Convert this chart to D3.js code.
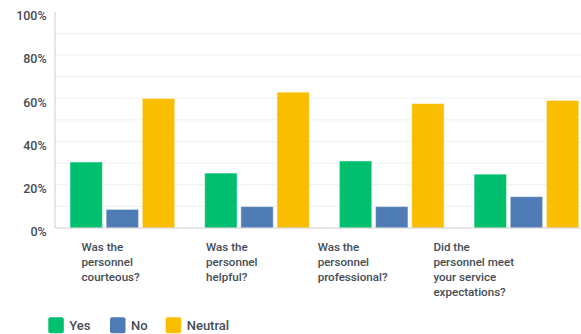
<!DOCTYPE html>
<html>
<head>
<meta charset="utf-8">
<script src="https://cdn.jsdelivr.net/npm/d3@7"></script>
<style>
  html, body { margin: 0; padding: 0; background: #fff; }
  svg { display: block; }
  text { font-family: Roboto, "Noto Sans", sans-serif; font-weight: 500; fill: #454c54; }
</style>
</head>
<body>
<svg id="chart" width="581" height="334"></svg>
<script>
// Survey questions (x categories), each label split into display lines
const questions = [
  "Was the personnel courteous?",
  "Was the personnel helpful?",
  "Was the personnel professional?",
  "Did the personnel meet your service expectations?"
];
const questionLines = [
  ["Was the", "personnel", "courteous?"],
  ["Was the", "personnel", "helpful?"],
  ["Was the", "personnel", "professional?"],
  ["Did the", "personnel meet", "your service", "expectations?"]
];

// Answer series
const seriesNames = ["Yes", "No", "Neutral"];
const seriesColors = ["#00bf6f", "#507cb6", "#f9be00"];

// Percentage of responses per question
const yesValues = [30.5, 25.4, 31.0, 24.9];
const noValues = [8.6, 9.9, 9.9, 14.5];
const neutralValues = [59.9, 62.8, 57.5, 59.0];

// Axis ticks
const gridTicks = [10, 20, 30, 40, 50, 60, 70, 80, 90];
const labelTicks = [0, 20, 40, 60, 80, 100];

const seriesValues = [yesValues, noValues, neutralValues];

const svg = d3.select("#chart");

const plotLeft = 55, plotRight = 581, plotTop = 11.7, plotBottom = 228;

const y = d3.scaleLinear().domain([0, 100]).range([plotBottom, plotTop]);

// Bar groups run slightly past the right edge of the view
const x0 = d3.scaleBand().domain(questions).range([plotLeft, 593.8])
  .paddingInner(0.2227).paddingOuter(0.1114);
const x1 = d3.scaleBand().domain(seriesNames).range([0, x0.bandwidth()])
  .paddingInner(0.104).paddingOuter(0);

// Category labels sit on their own evenly spaced band
const xLabel = d3.scaleBand().domain(questions).range([50.3, 534.3]);

// Gridlines
svg.append("g").selectAll("line").data(gridTicks).join("line")
  .attr("x1", plotLeft).attr("x2", plotRight)
  .attr("y1", d => y(d)).attr("y2", d => y(d))
  .attr("stroke", "#efefef").attr("stroke-width", 1);

// Bars
const groups = svg.append("g").selectAll("g").data(questions).join("g")
  .attr("transform", d => `translate(${x0(d)},0)`);
groups.selectAll("rect")
  .data((q, qi) => seriesNames.map((s, si) => ({ s, si, v: seriesValues[si][qi] })))
  .join("rect")
  .attr("x", d => x1(d.s))
  .attr("width", x1.bandwidth())
  .attr("y", d => y(d.v))
  .attr("height", d => y(0) - y(d.v))
  .attr("fill", d => seriesColors[d.si])
  .attr("stroke", "rgba(255,255,255,0.45)")
  .attr("stroke-width", 1);

// Axis lines
svg.append("line")
  .attr("x1", plotLeft).attr("x2", plotLeft)
  .attr("y1", plotTop).attr("y2", plotBottom)
  .attr("stroke", "#cfcfcf").attr("stroke-width", 1);
svg.append("line")
  .attr("x1", plotLeft).attr("x2", plotRight)
  .attr("y1", plotBottom).attr("y2", plotBottom)
  .attr("stroke", "#cfcfcf").attr("stroke-width", 1.2);

// Y tick labels
svg.append("g").selectAll("text").data(labelTicks).join("text")
  .attr("x", 46.7).attr("y", d => y(d) + 5)
  .attr("text-anchor", "end").attr("dominant-baseline", "middle")
  .attr("font-size", 12.5)
  .text(d => d + "%");

// Category labels: left-aligned block centred on its band
const labelGroups = svg.append("g").selectAll("text").data(questions).join("text")
  .attr("font-size", 11.6)
  .attr("font-weight", 700)
  .attr("y", 248.3);
labelGroups.each(function (q, qi) {
  const t = d3.select(this);
  questionLines[qi].forEach((line, li) => {
    t.append("tspan").attr("x", 0).attr("y", 248.3 + li * 15)
      .attr("dominant-baseline", "middle").text(line);
  });
  const w = this.getBBox().width;
  const cx = xLabel(q) + xLabel.bandwidth() / 2;
  t.attr("transform", `translate(${cx - w / 2},0)`);
});

// Legend
const legendX = [48.3, 110, 165.7];
const legend = svg.append("g").selectAll("g").data(seriesNames).join("g")
  .attr("transform", (d, i) => `translate(${legendX[i]},317.3)`);
legend.append("rect")
  .attr("width", 15.5).attr("height", 16).attr("rx", 2)
  .attr("fill", (d, i) => seriesColors[i]);
legend.append("text")
  .attr("x", 21).attr("y", 9.4)
  .attr("dominant-baseline", "middle")
  .attr("font-size", 13)
  .text(d => d);
</script>
</body>
</html>
